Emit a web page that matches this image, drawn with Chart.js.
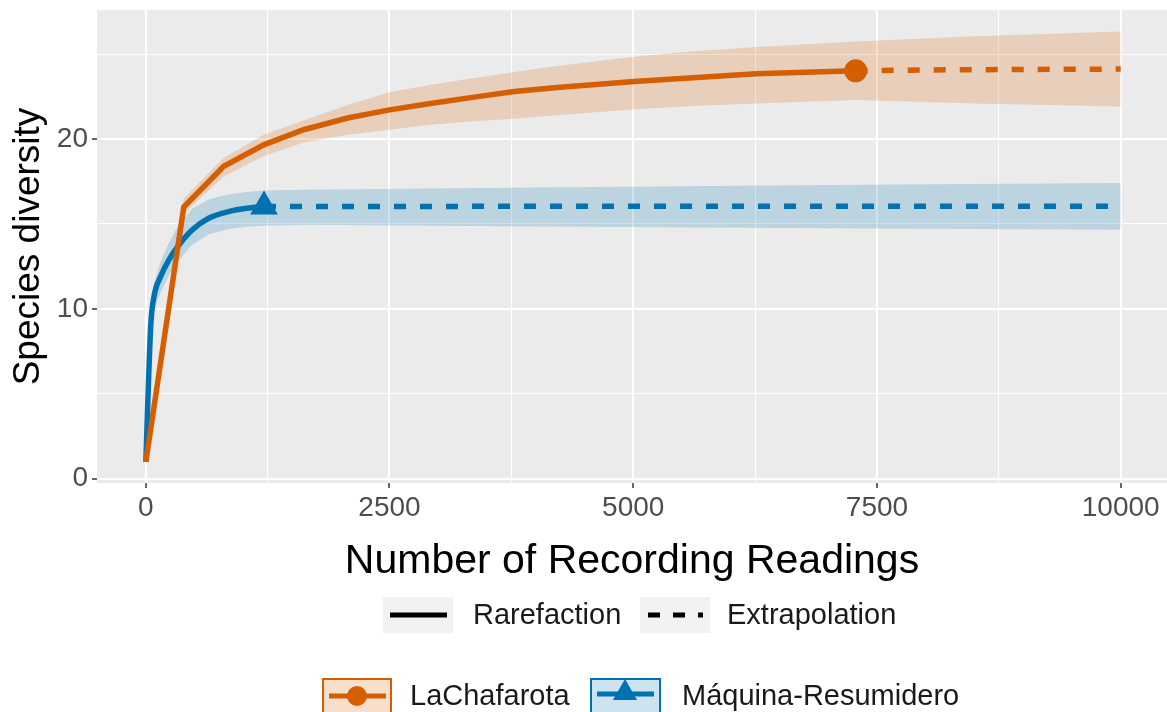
<!DOCTYPE html>
<html>
<head>
<meta charset="utf-8">
<script src="https://cdn.jsdelivr.net/npm/chart.js@4"></script>
<style>
  body { margin: 0; background: #fff; }
</style>
</head>
<body>
<canvas id="myChart" width="1167" height="712"></canvas>
<script>
// LaChafarota - rarefaction, extrapolation and 95% band
var la_x = [1, 390, 800, 1210, 1620, 2070, 2500, 2920, 3370, 3780, 4220, 5010, 6260, 7282];
var la_y = [1, 16.0, 18.4, 19.66, 20.55, 21.24, 21.72, 22.1, 22.47, 22.8, 23.04, 23.39, 23.84, 24.02];
var la_ext_x = [7282, 8000, 9000, 10000];
var la_ext_y = [24.02, 24.07, 24.1, 24.12];
var la_band_x = [1, 390, 800, 1210, 1620, 2070, 2500, 2920, 3370, 3780, 4220, 5010, 5600, 6260, 7282, 8500, 10000];
var la_low = [1, 15.6, 17.8, 19.0, 19.8, 20.25, 20.55, 20.85, 21.05, 21.2, 21.4, 21.75, 21.95, 22.1, 22.3, 22.1, 21.92];
var la_high = [1, 16.5, 18.9, 20.25, 21.1, 22.0, 22.75, 23.2, 23.6, 23.95, 24.3, 24.85, 25.15, 25.42, 25.75, 26.05, 26.33];

// Maquina-Resumidero
var ma_x = [1, 51, 85, 154, 239, 342, 479, 650, 855, 1060, 1213];
var ma_y = [1, 8.98, 10.74, 11.92, 12.9, 13.78, 14.66, 15.35, 15.74, 15.94, 16.03];
var ma_ext_x = [1213, 4000, 7000, 10000];
var ma_ext_y = [16.03, 16.04, 16.05, 16.05];
var ma_band_x = [1, 51, 85, 154, 239, 342, 479, 650, 855, 1060, 1213, 1640, 4000, 7000, 10000];
var ma_low = [1, 8.5, 10.0, 11.0, 12.0, 12.9, 13.8, 14.4, 14.7, 14.85, 14.9, 14.96, 14.85, 14.75, 14.66];
var ma_high = [1, 9.5, 11.5, 12.8, 13.9, 15.0, 15.9, 16.45, 16.75, 16.9, 16.97, 17.02, 17.15, 17.3, 17.41];

var x_ticks = [0, 1250, 2500, 3750, 5000, 6250, 7500, 8750, 10000];
var y_ticks = [0, 5, 10, 15, 20, 25];
var series_names = ["LaChafarota", "Máquina-Resumidero"];
var method_names = ["Rarefaction", "Extrapolation"];

var orange = '#D55E00';
var blue = '#0072B2';
var font_family = "'Liberation Sans', Arial, sans-serif";

function pts(xs, ys) {
    var out = [];
    for (var i = 0; i < xs.length; i++) {
        out.push({x: xs[i], y: ys[i]});
    }
    return out;
}

// drop the padding chart.js reserves for edge labels
function noPad(scale) {
    scale.paddingTop = 0;
    scale.paddingBottom = 0;
    scale.paddingLeft = 0;
    scale.paddingRight = 0;
}

var panelBg = {
    id: 'panelBg',
    beforeDraw: function(chart) {
        var c = chart.ctx, a = chart.chartArea;
        c.save();
        c.fillStyle = '#fff';
        c.fillRect(0, 0, chart.width, chart.height);
        c.fillStyle = '#EBEBEB';
        c.fillRect(a.left, a.top, a.right - a.left, a.bottom - a.top);
        c.restore();
    }
};

function triangle(c, x, y, r) {
    c.beginPath();
    c.moveTo(x, y - r);
    c.lineTo(x + r * Math.sin(2 * Math.PI / 3), y + r / 2);
    c.lineTo(x - r * Math.sin(2 * Math.PI / 3), y + r / 2);
    c.closePath();
    c.fill();
}

var bottomLegend = {
    id: 'bottomLegend',
    afterDraw: function(chart) {
        var c = chart.ctx;
        c.save();
        c.font = "29px " + font_family;
        c.textBaseline = 'middle';

        // line type legend
        var y1 = 615;
        c.fillStyle = '#F2F2F2';
        c.fillRect(383, 597, 70, 36);
        c.fillRect(640, 597, 70, 36);
        c.strokeStyle = '#000';
        c.lineWidth = 5;
        c.beginPath(); c.moveTo(390, y1); c.lineTo(447, y1); c.stroke();
        c.setLineDash([12, 13]);
        c.beginPath(); c.moveTo(648, y1); c.lineTo(703, y1); c.stroke();
        c.setLineDash([]);
        c.fillStyle = '#1A1A1A';
        c.fillText(method_names[0], 473, y1 + 1);
        c.fillText(method_names[1], 727, y1 + 1);

        // group legend
        var y2 = 696;
        c.lineWidth = 2;
        c.fillStyle = 'rgba(213,94,0,0.2)';
        c.fillRect(322, 678, 70, 36);
        c.strokeStyle = orange;
        c.strokeRect(323, 679, 68, 36);
        c.fillStyle = 'rgba(0,114,178,0.2)';
        c.fillRect(590, 678, 71, 36);
        c.strokeStyle = blue;
        c.strokeRect(591, 679, 69, 36);

        c.lineWidth = 5;
        c.strokeStyle = orange;
        c.beginPath(); c.moveTo(329, y2); c.lineTo(386, y2); c.stroke();
        c.fillStyle = orange;
        c.beginPath(); c.arc(357, y2, 10, 0, Math.PI * 2); c.fill();
        c.strokeStyle = blue;
        c.beginPath(); c.moveTo(597, y2 - 2); c.lineTo(654, y2 - 2); c.stroke();
        c.fillStyle = blue;
        triangle(c, 625, y2 - 3, 14);

        c.fillStyle = '#1A1A1A';
        c.fillText(series_names[0], 410, y2 + 1);
        c.fillText(series_names[1], 682, y2 + 1);
        c.restore();
    }
};

var ctx = document.getElementById("myChart");
var myChart = new Chart(ctx, {
    type: 'line',
    data: {
        datasets: [
            // markers
            {data: [{x: la_x[la_x.length - 1], y: la_y[la_y.length - 1]}], showLine: false, pointStyle: 'circle',
             pointRadius: 11.5, pointBackgroundColor: orange, pointBorderWidth: 0, order: 0},
            {data: [{x: ma_x[ma_x.length - 1], y: ma_y[ma_y.length - 1]}], showLine: false, pointStyle: 'triangle',
             pointRadius: 16, pointBackgroundColor: blue, pointBorderWidth: 0, order: 0},
            // lines
            {data: pts(la_x, la_y), borderColor: orange, borderWidth: 5.5, pointRadius: 0, tension: 0, order: 1},
            {data: pts(la_ext_x, la_ext_y), borderColor: orange, borderWidth: 5.5, borderDash: [12, 14],
             borderCapStyle: 'butt', pointRadius: 0, order: 1},
            {data: pts(ma_x, ma_y), borderColor: blue, borderWidth: 5.5, pointRadius: 0,
             cubicInterpolationMode: 'monotone', order: 1},
            {data: pts(ma_ext_x, ma_ext_y), borderColor: blue, borderWidth: 5.5, borderDash: [12, 14],
             borderCapStyle: 'butt', pointRadius: 0, order: 1},
            // bands
            {data: pts(la_band_x, la_low), borderColor: 'transparent', borderWidth: 0, pointRadius: 0, order: 3},
            {data: pts(la_band_x, la_high), borderColor: 'transparent', borderWidth: 0, pointRadius: 0,
             fill: '-1', backgroundColor: 'rgba(213,94,0,0.2)', order: 3},
            {data: pts(ma_band_x, ma_low), borderColor: 'transparent', borderWidth: 0, pointRadius: 0, order: 2},
            {data: pts(ma_band_x, ma_high), borderColor: 'transparent', borderWidth: 0, pointRadius: 0,
             fill: '-1', backgroundColor: 'rgba(0,114,178,0.2)', order: 2}
        ]
    },
    options: {
        responsive: false,
        animation: false,
        layout: {autoPadding: false, padding: {top: 10, right: 0, bottom: 129, left: 0}},
        plugins: {legend: {display: false}, tooltip: {enabled: false}},
        scales: {
            x: {
                type: 'linear',
                min: -500,
                max: 10475,
                afterBuildTicks: function(scale) {
                    scale.ticks = x_ticks.map(function(v) { return {value: v}; });
                },
                afterFit: function(scale) { scale.height = 100; noPad(scale); },
                border: {display: false},
                grid: {
                    color: '#fff',
                    lineWidth: function(c) { return c.tick && c.tick.value % 2500 === 0 ? 2 : 1; },
                    tickColor: function(c) { return c.tick && c.tick.value % 2500 === 0 ? '#333' : 'rgba(0,0,0,0)'; },
                    tickLength: 5,
                    tickWidth: 1.5
                },
                ticks: {
                    autoSkip: false,
                    maxRotation: 0,
                    padding: 3,
                    color: '#4D4D4D',
                    font: {family: font_family, size: 28},
                    callback: function(v) { return v % 2500 === 0 ? String(v) : ''; }
                },
                title: {
                    display: true,
                    text: 'Number of Recording Readings',
                    color: '#000',
                    font: {family: font_family, size: 41, lineHeight: 1},
                    padding: {top: 0, bottom: 1}
                }
            },
            y: {
                type: 'linear',
                min: -0.25,
                max: 27.6,
                afterBuildTicks: function(scale) {
                    scale.ticks = y_ticks.map(function(v) { return {value: v}; });
                },
                afterFit: function(scale) { scale.width = 97; noPad(scale); },
                border: {display: false},
                grid: {
                    color: '#fff',
                    lineWidth: function(c) { return c.tick && c.tick.value % 10 === 0 ? 2 : 1; },
                    tickColor: function(c) { return c.tick && c.tick.value % 10 === 0 ? '#333' : 'rgba(0,0,0,0)'; },
                    tickLength: 5,
                    tickWidth: 1.5
                },
                ticks: {
                    autoSkip: false,
                    padding: 4,
                    color: '#4D4D4D',
                    font: {family: font_family, size: 28},
                    callback: function(v) { return v % 10 === 0 ? String(v) : ''; }
                },
                title: {
                    display: true,
                    text: 'Species diversity',
                    color: '#000',
                    font: {family: font_family, size: 37, lineHeight: 1},
                    padding: {top: 10, bottom: 0}
                }
            }
        }
    },
    plugins: [panelBg, bottomLegend]
});
</script>
</body>
</html>
